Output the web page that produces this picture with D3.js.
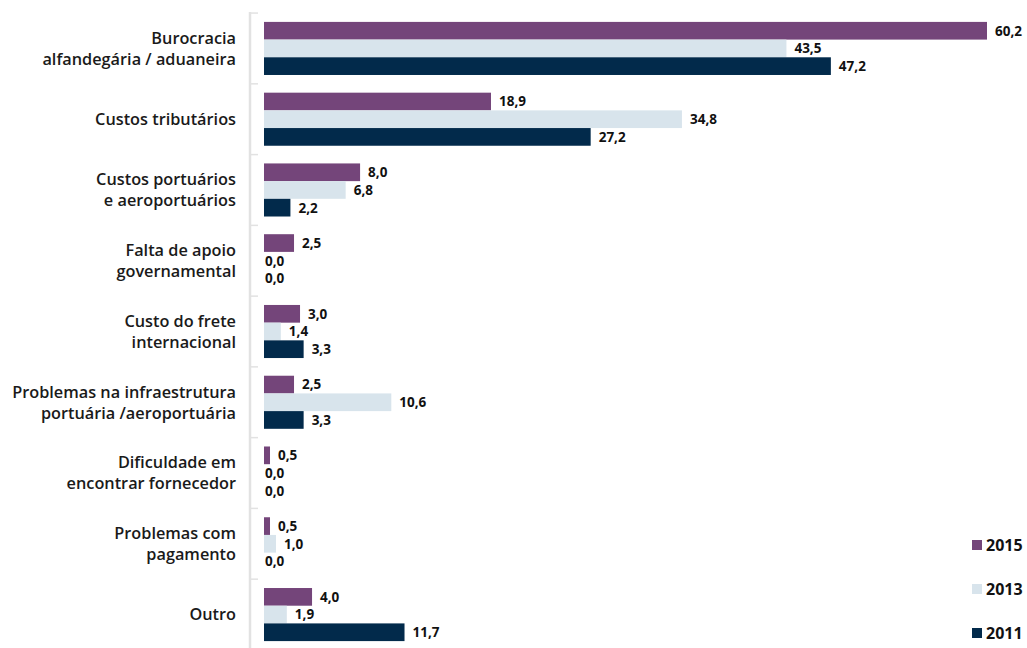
<!DOCTYPE html>
<html><head><meta charset="utf-8">
<script src="https://cdn.jsdelivr.net/npm/d3@7"></script>
<style>body{margin:0;background:#fff;} svg{display:block;font-family:"Open Sans",Lato,sans-serif;}</style>
</head><body><svg id="c" width="1027" height="648"></svg>
<script>
const categories = [
  ["Burocracia","alfandegária / aduaneira"],
  ["Custos tributários"],
  ["Custos portuários","e aeroportuários"],
  ["Falta de apoio","governamental"],
  ["Custo do frete","internacional"],
  ["Problemas na infraestrutura","portuária /aeroportuária"],
  ["Dificuldade em","encontrar fornecedor"],
  ["Problemas com","pagamento"],
  ["Outro"]
];
const seriesNames = ["2015","2013","2011"];
const v2015 = [60.2, 18.9, 8.0, 2.5, 3.0, 2.5, 0.5, 0.5, 4.0];
const v2013 = [43.5, 34.8, 6.8, 0.0, 1.4, 10.6, 0.0, 1.0, 1.9];
const v2011 = [47.2, 27.2, 2.2, 0.0, 3.3, 3.3, 0.0, 0.0, 11.7];
const colors = ["#74457a","#d8e4ec","#022a4b"];

const svg = d3.select("#c");
const series = [v2015, v2013, v2011];
const x = d3.scaleLinear().domain([0, 60.2]).range([264, 987]);
const y = d3.scaleBand().domain(d3.range(categories.length)).range([12, 651]).paddingInner(0.25).paddingOuter(0.14);
const y1 = d3.scaleBand().domain(d3.range(3)).range([0, y.bandwidth()]);

svg.append("line").attr("x1",250).attr("x2",250).attr("y1",12).attr("y2",648)
  .attr("stroke","#e2e2e2").attr("stroke-width",2.5);
const step = y.step();
const seps = d3.range(categories.length).map(i => y(i) - (step - y.bandwidth())/2);
svg.selectAll("line.sep").data(seps).enter().append("line")
  .attr("x1",250).attr("x2",258).attr("y1",d=>d).attr("y2",d=>d)
  .attr("stroke","#e2e2e2").attr("stroke-width",1.5);

const g = svg.selectAll("g.grp").data(categories).enter().append("g")
  .attr("transform",(d,i)=>`translate(0,${y(i)})`);

g.each(function(cat, i){
  const gg = d3.select(this);
  series.forEach((s, k) => {
    const v = s[i];
    gg.append("rect").attr("x", x(0)).attr("y", y1(k)).attr("width", x(v)-x(0)).attr("height", y1.bandwidth())
      .attr("fill", colors[k]);
    gg.append("text").attr("x", v === 0 ? x(0)+1 : x(v)+8).attr("y", y1(k)+y1.bandwidth()/2)
      .attr("dy","0.36em").attr("font-size",13.5).attr("font-weight",700).attr("fill","#111")
      .text(d3.format(".1f")(v).replace(".",","));
  });
  const lh = 21;
  const cy = y.bandwidth()/2;
  const n = cat.length;
  cat.forEach((line, j) => {
    gg.append("text").attr("x",236).attr("y", cy + (j - (n-1)/2)*lh).attr("dy","0.36em")
      .attr("text-anchor","end").attr("font-size",16.3).attr("font-weight",600).attr("fill","#1a1a1a")
      .text(line);
  });
});

const leg = svg.selectAll("g.leg").data(seriesNames).enter().append("g")
  .attr("transform",(d,i)=>`translate(972,${545 + i*44})`);
leg.append("rect").attr("x",0).attr("y",-5).attr("width",10).attr("height",10).attr("fill",(d,i)=>colors[i]);
leg.append("text").attr("x",14).attr("y",0).attr("dy","0.36em").attr("font-size",16).attr("font-weight",700)
  .attr("fill","#111").text(d=>d);
</script></body></html>
